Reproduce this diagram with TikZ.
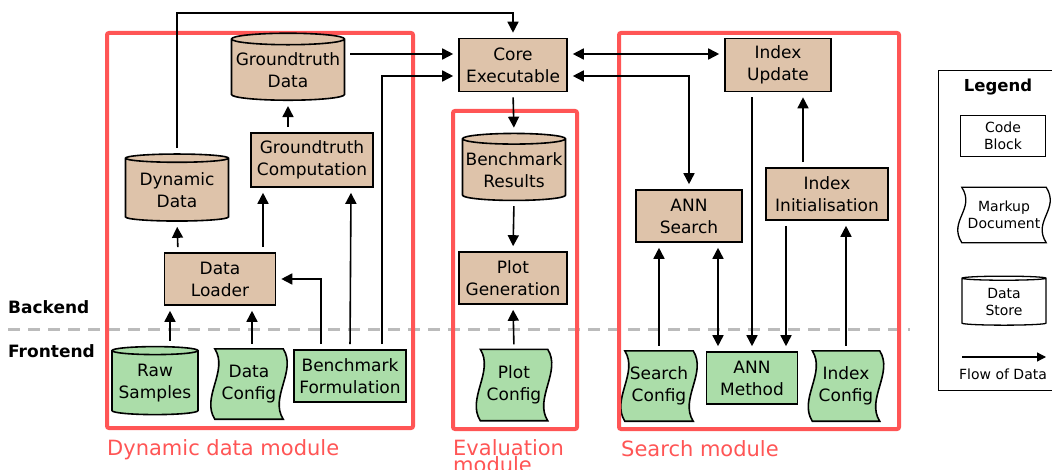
\documentclass[tikz,border=0pt]{standalone}
\usepackage{fontspec}
\setmainfont{DejaVu Sans}
\usetikzlibrary{positioning,calc,arrows.meta,shapes.geometric,backgrounds}

\definecolor{backtan}{HTML}{DEC3AA}
\definecolor{frontgreen}{HTML}{ABDDA9}
\definecolor{modred}{HTML}{FF5555}
\definecolor{splitgray}{HTML}{BBBBBB}

\newcommand{\boxfont}{\fontsize{17}{22}\selectfont}
\newcommand{\legfont}{\fontsize{14}{17}\selectfont}
\newcommand{\modfont}{\fontsize{21}{17}\selectfont}

\tikzset{
    code/.style={draw=black, line width=1.6pt, fill=backtan, align=center, inner sep=0pt, font=\boxfont},
    front/.style={code, fill=frontgreen},
    store/.style={code, cylinder, shape border rotate=90, aspect=0.11},
    markup/.style={align=center, inner sep=0pt, font=\boxfont},
    flow/.style={line width=1.6pt, shorten >=5pt, shorten <=5pt},
    module/.style={draw=modred, line width=4pt, rounded corners=2pt, anchor=north west, inner sep=0pt},
    modlabel/.style={text=modred, font=\modfont, inner sep=0pt, align=left},
    split/.style={draw=splitgray, line width=3pt, dash pattern=on 12pt off 8pt},
}

\begin{document}
\begin{tikzpicture}[x=1pt, y=-1pt, >={Triangle[length=11pt,width=11pt]}]
        \useasboundingbox (0,0) rectangle (1052,470);
        \clip (0,0) rectangle (1052,470);

        % backend / frontend split
        \coordinate (splitl) at (8,329);
        \coordinate (splitr) at (910,329);
        \draw[split] (splitl) -- (splitr);
        \node (backlbl) [anchor=base west, inner sep=0pt, font=\bfseries\boxfont] at (8,313) {Backend};
        \node (frontlbl) [anchor=base west, inner sep=0pt, font=\bfseries\boxfont] at (8,357) {Frontend};

        % modules
        \node (dynmod) [module, minimum width=306pt, minimum height=395pt] at (105,31) {};
        \node (dynlabel) [modlabel, below right=9pt and 2pt of dynmod.south west] {Dynamic data module};

        \node (evalmod) [module, minimum width=124pt, minimum height=318pt] at (451,109) {};
        \node (evallabel) [modlabel, below right=8pt and 2pt of evalmod.south west] {Evaluation\\module};

        \node (searchmod) [module, minimum width=280pt, minimum height=396pt] at (617,31) {};
        \node (searchlabel) [modlabel, below right=9pt and 4pt of searchmod.south west] {Search module};

        % dynamic data module
        \node (gtdata) [store, minimum width=113pt, minimum height=67pt] at (288,70) {Groundtruth\\Data};
        \node (gtcomp) [code, minimum width=122pt, minimum height=54pt] at (312,160) {Groundtruth\\Computation};
        \node (dyndata) [store, minimum width=103pt, minimum height=67pt] at (177,190) {Dynamic\\Data};
        \node (loader) [code, minimum width=111pt, minimum height=52pt] at (220,279) {Data\\Loader};
        \node (raw) [store, fill=frontgreen, minimum width=86pt, minimum height=68pt] at (155,383) {Raw\\Samples};
        \node (dataconf) [markup, minimum width=68pt, minimum height=70pt] at (249,384) {Data\\Config};
        \node (bench) [front, minimum width=112pt, minimum height=52pt] at (350,376) {Benchmark\\Formulation};

        % core and evaluation module
        \node (core) [code, minimum width=108pt, minimum height=53pt] at (513,65) {Core\\Executable};
        \node (results) [store, minimum width=103pt, minimum height=67pt] at (514,170) {Benchmark\\Results};
        \node (plotgen) [code, minimum width=108pt, minimum height=52pt] at (513,278) {Plot\\Generation};
        \node (plotconf) [markup, minimum width=67pt, minimum height=71pt] at (514,385) {Plot\\Config};

        % search module
        \node (idxupdate) [code, minimum width=106pt, minimum height=53pt] at (778,65) {Index\\Update};
        \node (annsearch) [code, minimum width=106pt, minimum height=52pt] at (689,216) {ANN\\Search};
        \node (idxinit) [code, minimum width=122pt, minimum height=52pt] at (827,194) {Index\\Initialisation};
        \node (searchconf) [markup, minimum width=68pt, minimum height=70pt] at (659,386) {Search\\Config};
        \node (annmethod) [front, minimum width=91pt, minimum height=52pt] at (752,378) {ANN\\Method};
        \node (idxconf) [markup, minimum width=67pt, minimum height=70pt] at (846,386) {Index\\Config};

        % legend
        \node (legbox) [draw, line width=1.3pt, minimum width=130pt, minimum height=320pt, anchor=north west] at (938,70) {};
        \node (legtitle) [font=\bfseries\fontsize{16.5}{20}\selectfont] at (998,87) {Legend};
        \node (legcode) [code, fill=white, line width=1.3pt, font=\legfont, minimum width=85pt, minimum height=41pt] at (1003,136) {Code\\Block};
        \node (legdoc) [markup, font=\legfont, minimum width=84pt, minimum height=55pt] at (1004,215) {Markup\\Document};
        \node (legstore) [store, fill=white, line width=1.3pt, font=\legfont, minimum width=84pt, minimum height=49pt] at (1004,302) {Data\\Store};
        \coordinate (legfrom) at (962,357);
        \coordinate (legto) at (1046,357);
        \draw[->, line width=1.3pt, >={Triangle[length=9pt,width=9pt]}] (legfrom) -- (legto);
        \node (legflow) [font=\legfont] at (1003,374) {Flow of Data};

        % markup documents: wavy left and right edges
        \begin{scope}[on background layer]
            \foreach \d/\c/\w in {dataconf/frontgreen/1.6, plotconf/frontgreen/1.6, searchconf/frontgreen/1.6, idxconf/frontgreen/1.6, legdoc/white/1.3}
                \filldraw[fill=\c, line width=\w pt] (\d.north west) -- (\d.north east)
                    .. controls +(14,22) and +(-14,-22) .. (\d.south east) -- (\d.south west)
                    .. controls +(-14,-22) and +(14,22) .. (\d.north west) -- cycle;
        \end{scope}

        % data flow
        \coordinate (topbus) at (0,13);
        \draw[->, flow] (dyndata.north) |- (topbus -| core.north) -- (core.north);
        \draw[->, flow, transform canvas={yshift=11pt}] (gtdata.east |- core.west) -- (core.west);
        \draw[->, flow] ([xshift=32pt]bench.north) |- ([yshift=-11pt]core.west);
        \draw[->, flow] (gtdata.south |- gtcomp.north) -- (gtdata.south);
        \draw[->, flow] ([xshift=43pt]loader.north) -- ([xshift=-49pt]gtcomp.south);
        \draw[->, flow] (bench.north) -- ([xshift=39pt]gtcomp.south);
        \draw[->, flow] ([xshift=-42pt]loader.north) -- (dyndata.south);
        \draw[->, flow] ([xshift=-29pt]bench.north) |- (loader.east);
        \draw[->, flow] ([xshift=15pt]raw.north) -- ([xshift=-50pt]loader.south);
        \draw[->, flow] ([xshift=3pt]dataconf.north) -- ([xshift=32pt]loader.south);

        \draw[->, flow] (core.south) -- (results.north);
        \draw[->, flow] (results.south) -- (plotgen.north);
        \draw[->, flow] (plotconf.north) -- (plotgen.south);

        \draw[<->, flow, transform canvas={yshift=11pt}] (core.east) -- (idxupdate.west);
        \draw[<->, flow] ([yshift=-11pt]core.east) -| (annsearch.north);
        \draw[->, flow] ([xshift=-26pt]idxupdate.south) -- (annmethod.north);
        \draw[->, flow] ([xshift=-41pt]idxinit.south) -- ([xshift=34pt]annmethod.north);
        \draw[->, flow] ([xshift=-24pt]idxinit.north) -- ([xshift=25pt]idxupdate.south);
        \draw[->, flow] (searchconf.north) -- ([xshift=-30pt]annsearch.south);
        \draw[<->, flow] ([xshift=29pt]annsearch.south) -- ([xshift=-34pt]annmethod.north);
        \draw[->, flow] (idxconf.north) -- ([xshift=19pt]idxinit.south);
    \end{tikzpicture}
\end{document}
